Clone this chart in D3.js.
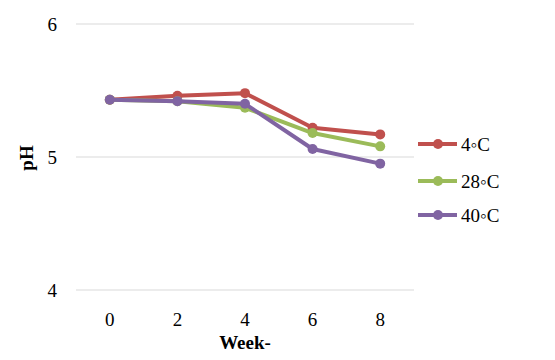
<!DOCTYPE html>
<html><head><meta charset="utf-8">
<script src="https://cdn.jsdelivr.net/npm/d3@7"></script>
<style>body{margin:0;background:#fff}svg{display:block}</style>
</head><body>
<svg id="c" width="555" height="360"></svg>
<script>
const weeks = ["0","2","4","6","8"];
const seriesNames = ["4◦C","28◦C","40◦C"];
const s4 = [5.43,5.46,5.48,5.22,5.17];
const s28 = [5.43,5.42,5.37,5.18,5.08];
const s40 = [5.43,5.42,5.40,5.06,4.95];
const yTicks = [4,5,6];
const colors = ["#C0504D","#9BBB59","#8064A2"];
const allSeries = [s4,s28,s40];

const svg = d3.select("#c");
const font = '"Liberation Serif", serif';
const x = d3.scaleBand().domain(weeks).range([76,414]);
const y = d3.scaleLinear().domain([4,6]).range([290,24]);

svg.append("g").selectAll("line").data(yTicks).join("line")
  .attr("x1",76).attr("x2",414).attr("y1",d=>y(d)).attr("y2",d=>y(d))
  .attr("stroke","#D9D9D9").attr("stroke-width",1);

const yAxis = svg.append("g").attr("transform","translate(76,0)")
  .call(d3.axisLeft(y).tickValues(yTicks).tickSize(0).tickPadding(19).tickFormat(d3.format("d")));
yAxis.attr("font-family",null).attr("font-size",null);
yAxis.select(".domain").remove();
yAxis.selectAll("text").style("font-family",font).style("font-size","19px").attr("fill","#000");

const xAxis = svg.append("g").attr("transform","translate(0,290)")
  .call(d3.axisBottom(x).tickSize(0).tickPadding(23));
xAxis.attr("font-family",null).attr("font-size",null);
xAxis.select(".domain").remove();
xAxis.selectAll("text").style("font-family",font).style("font-size","19px").attr("fill","#000");

const line = d3.line().x((d,i)=>x(weeks[i])+x.bandwidth()/2).y(d=>y(d));
allSeries.forEach((s,k)=>{
  svg.append("path").datum(s).attr("d",line).attr("fill","none")
    .attr("stroke",colors[k]).attr("stroke-width",4).attr("stroke-linejoin","round");
  svg.append("g").selectAll("circle").data(s).join("circle")
    .attr("cx",(d,i)=>x(weeks[i])+x.bandwidth()/2).attr("cy",d=>y(d)).attr("r",5)
    .attr("fill",colors[k]);
});

svg.append("text").attr("x",245).attr("y",349).attr("text-anchor","middle")
  .style("font-family",font).style("font-size","19px").attr("font-weight","bold").text("Week-");
svg.append("text").attr("transform","translate(33,158) rotate(-90)").attr("text-anchor","middle")
  .style("font-family",font).style("font-size","19px").attr("font-weight","bold").text("pH");

const lg = svg.append("g");
const ly = [144,181,215];
seriesNames.forEach((n,k)=>{
  lg.append("line").attr("x1",418).attr("x2",457).attr("y1",ly[k]).attr("y2",ly[k])
    .attr("stroke",colors[k]).attr("stroke-width",4);
  lg.append("circle").attr("cx",438).attr("cy",ly[k]).attr("r",5).attr("fill",colors[k]);
  lg.append("text").attr("x",461).attr("y",ly[k]).attr("dy","0.35em")
    .style("font-family",font).style("font-size","19px").text(n);
});
</script>
</body></html>
